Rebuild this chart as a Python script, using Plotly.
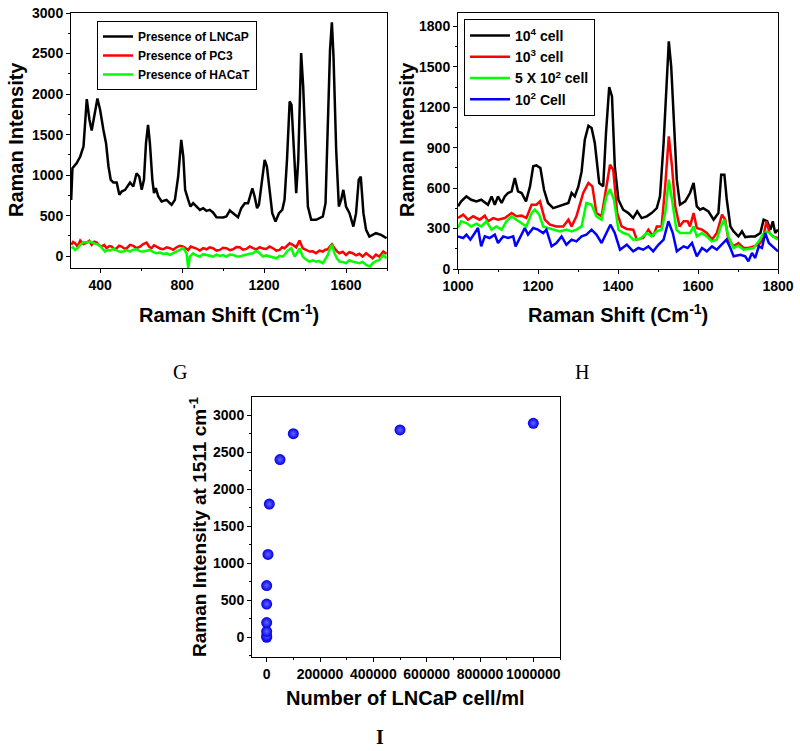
import plotly.graph_objects as go

FONT = "Liberation Sans, Arial, sans-serif"
SERIF = "Liberation Serif, Times New Roman, serif"

# ---------------- Panel G data ----------------
g_lncap_x = [259, 265, 286, 303, 319, 335, 348, 359, 387, 400, 416, 429, 441, 452, 465, 481, 494, 505, 522, 546,
             562, 578, 591, 603, 614, 624, 634, 643, 655, 663, 672, 684, 700, 724, 749, 765, 781, 796, 806, 815,
             830, 841, 854, 870, 887, 903, 919, 935, 951, 968, 984, 1000, 1016, 1033, 1049, 1073, 1089, 1106, 1122, 1130,
             1143, 1154, 1166, 1175, 1187, 1203, 1214, 1224, 1240, 1256, 1273, 1289, 1300, 1312, 1325, 1334, 1346, 1357, 1367, 1381,
             1391, 1402, 1414, 1430, 1454, 1471, 1487, 1500, 1511, 1522, 1531, 1539, 1552, 1565, 1576, 1587, 1600, 1617, 1636, 1649,
             1662, 1672, 1685, 1698, 1714, 1730, 1746, 1771, 1787, 1798]
g_lncap_y = [695, 1086, 1148, 1230, 1354, 1938, 1683, 1551, 1946, 1806, 1560, 1395, 1107, 942, 909, 909, 757, 798, 819, 909,
             860, 1024, 983, 819, 942, 1395, 1621, 1395, 942, 778, 839, 737, 675, 695, 634, 695, 983, 1436, 1230, 819,
             695, 613, 654, 613, 572, 593, 560, 572, 540, 481, 481, 478, 490, 564, 531, 481, 593, 654, 654, 737,
             839, 737, 593, 634, 860, 1189, 1107, 860, 531, 428, 531, 572, 695, 1189, 1909, 1868, 1230, 778, 1189, 2506,
             2095, 1395, 613, 449, 449, 469, 490, 654, 1518, 2547, 2885, 2465, 1313, 613, 695, 819, 613, 531, 366, 531,
             942, 983, 531, 325, 243, 263, 284, 263, 243, 222]

g_pc3_x = [259, 268, 278, 290, 303, 319, 335, 347, 359, 372, 384, 396, 408, 420, 432, 445, 457, 469, 481, 493,
           505, 518, 530, 546, 562, 578, 595, 611, 627, 640, 651, 663, 676, 692, 708, 725, 741, 757, 773, 790,
           806, 818, 830, 842, 854, 870, 887, 903, 919, 935, 951, 968, 984, 1000, 1016, 1033, 1049, 1065, 1081, 1097,
           1114, 1130, 1146, 1162, 1179, 1195, 1211, 1227, 1244, 1260, 1276, 1288, 1300, 1312, 1325, 1341, 1357, 1373, 1389, 1405,
           1422, 1438, 1454, 1470, 1487, 1499, 1511, 1521, 1531, 1544, 1556, 1568, 1584, 1600, 1616, 1633, 1649, 1665, 1681, 1698,
           1714, 1730, 1746, 1763, 1782, 1798]
g_pc3_y = [140, 175, 160, 120, 193, 150, 169, 190, 140, 180, 169, 135, 119, 140, 99, 125, 119, 85, 99, 130,
           119, 95, 99, 140, 128, 100, 119, 150, 169, 115, 99, 135, 119, 95, 86, 110, 99, 80, 111, 130,
           119, 100, 78, 120, 111, 95, 70, 100, 86, 110, 99, 70, 78, 105, 99, 75, 86, 115, 111, 80,
           90, 120, 99, 85, 111, 95, 90, 120, 99, 70, 78, 110, 99, 130, 160, 140, 110, 193, 99, 80,
           58, 60, 37, 70, 58, 80, 86, 120, 148, 99, 60, 37, 55, 16, 50, 37, 10, 30, -4, 37,
           10, -25, 20, -4, 58, 29]

g_hacat_x = [259, 268, 278, 290, 303, 319, 335, 352, 368, 384, 400, 412, 424, 437, 449, 465, 481, 497, 514, 530,
             546, 562, 578, 595, 611, 627, 643, 660, 676, 692, 708, 725, 741, 757, 773, 790, 806, 822, 830, 838,
             854, 870, 887, 903, 919, 935, 951, 968, 984, 1000, 1016, 1033, 1049, 1065, 1081, 1097, 1114, 1130, 1146, 1158,
             1170, 1183, 1195, 1211, 1227, 1244, 1260, 1276, 1292, 1304, 1316, 1333, 1349, 1361, 1373, 1389, 1405, 1422, 1438, 1454,
             1470, 1487, 1499, 1511, 1521, 1531, 1544, 1556, 1568, 1584, 1600, 1616, 1633, 1649, 1665, 1681, 1698, 1717, 1730, 1746,
             1763, 1782, 1798]
g_hacat_y = [99, 110, 78, 100, 140, 175, 169, 180, 160, 150, 128, 90, 58, 80, 70, 90, 70, 55, 58, 75,
             58, 80, 86, 60, 58, 70, 78, 50, 37, 45, 29, 35, 16, 40, 58, 80, 99, 37, -150, -4,
             37, 10, -4, 25, 16, 0, -4, 20, 4, 15, -4, 20, 16, 0, -4, 10, 16, 30, 37, 60,
             58, 20, -4, 10, -4, -20, -25, 5, -4, 30, 70, 99, -4, 40, 99, -4, -40, -66, -50, -66,
             -60, -86, -30, 16, 90, 140, 37, -30, -66, -70, -86, -50, -66, -80, -86, -70, -107, -128, -86, -60,
             -45, 16, -25]

# ---------------- Panel H data ----------------
h_1e4_x = [1000, 1008, 1021, 1033, 1046, 1058, 1075, 1084, 1092, 1100, 1109, 1117, 1125, 1134, 1142, 1150, 1159, 1170, 1180, 1188,
           1196, 1206, 1215, 1225, 1238, 1250, 1263, 1276, 1284, 1292, 1301, 1309, 1317, 1326, 1334, 1342, 1353, 1363, 1370, 1378,
           1385, 1392, 1401, 1413, 1426, 1438, 1448, 1459, 1472, 1484, 1497, 1505, 1514, 1522, 1527, 1533, 1539, 1547, 1555, 1568,
           1580, 1589, 1597, 1605, 1613, 1626, 1639, 1651, 1658, 1666, 1672, 1681, 1689, 1701, 1710, 1718, 1731, 1743, 1756, 1764,
           1773, 1781, 1787, 1793, 1800]
h_1e4_y = [465, 502, 539, 514, 502, 514, 477, 539, 477, 539, 490, 539, 564, 576, 675, 576, 564, 502, 613, 762,
           769, 749, 588, 490, 452, 465, 477, 490, 564, 539, 613, 724, 959, 1063, 1046, 935, 638, 613, 1009, 1350,
           1281, 762, 514, 440, 415, 378, 428, 378, 391, 415, 452, 539, 935, 1380, 1689, 1503, 1132, 663, 477, 502,
           564, 638, 465, 440, 452, 428, 366, 415, 700, 700, 514, 316, 279, 242, 279, 237, 242, 242, 267, 366,
           354, 292, 354, 267, 292]

h_1e3_x = [1000, 1013, 1025, 1038, 1054, 1067, 1075, 1088, 1100, 1117, 1134, 1146, 1159, 1171, 1184, 1196, 1205, 1217, 1230, 1246,
           1263, 1276, 1284, 1296, 1313, 1326, 1336, 1346, 1359, 1371, 1380, 1388, 1398, 1409, 1422, 1438, 1447, 1463, 1476, 1488,
           1497, 1509, 1518, 1527, 1535, 1543, 1554, 1564, 1574, 1580, 1589, 1597, 1610, 1622, 1635, 1647, 1660, 1668, 1676, 1689,
           1701, 1714, 1726, 1739, 1752, 1762, 1771, 1779, 1787, 1800]
h_1e3_y = [378, 403, 366, 391, 366, 396, 354, 378, 366, 378, 415, 391, 396, 378, 477, 477, 502, 366, 329, 316,
           316, 366, 316, 391, 564, 638, 613, 415, 391, 613, 774, 737, 415, 316, 297, 292, 218, 230, 292, 242,
           316, 316, 613, 984, 762, 465, 316, 354, 354, 316, 415, 304, 292, 267, 218, 267, 403, 366, 218, 168,
           193, 156, 156, 168, 180, 218, 354, 267, 242, 230]

h_5e2_x = [1000, 1008, 1021, 1033, 1046, 1058, 1071, 1084, 1096, 1109, 1121, 1134, 1146, 1159, 1171, 1184, 1192, 1203, 1213, 1225,
           1238, 1255, 1271, 1284, 1296, 1309, 1321, 1334, 1346, 1359, 1371, 1380, 1390, 1401, 1413, 1426, 1438, 1455, 1472, 1484,
           1497, 1509, 1518, 1527, 1535, 1546, 1555, 1568, 1580, 1589, 1597, 1610, 1622, 1635, 1647, 1657, 1666, 1676, 1689, 1701,
           1714, 1726, 1739, 1752, 1762, 1771, 1779, 1787, 1800]
h_5e2_y = [304, 354, 341, 316, 336, 316, 354, 292, 316, 292, 354, 391, 366, 341, 316, 415, 440, 403, 316, 304,
           292, 279, 292, 279, 292, 316, 490, 477, 391, 366, 539, 593, 514, 292, 267, 255, 218, 223, 267, 242,
           279, 292, 415, 663, 514, 292, 267, 267, 267, 316, 242, 267, 242, 205, 218, 316, 366, 242, 156, 173,
           143, 148, 156, 205, 255, 279, 267, 242, 218]

h_1e2_x = [1000, 1013, 1021, 1031, 1042, 1050, 1058, 1067, 1079, 1092, 1100, 1113, 1125, 1138, 1144, 1154, 1167, 1175, 1188, 1200,
           1213, 1221, 1234, 1246, 1259, 1271, 1284, 1296, 1309, 1321, 1334, 1346, 1359, 1371, 1381, 1392, 1405, 1422, 1438, 1451,
           1463, 1476, 1488, 1501, 1514, 1526, 1537, 1547, 1564, 1574, 1585, 1597, 1610, 1622, 1635, 1647, 1660, 1671, 1681, 1689,
           1706, 1718, 1726, 1735, 1743, 1752, 1760, 1768, 1777, 1787, 1800]
h_1e2_y = [242, 230, 255, 218, 267, 304, 168, 242, 230, 255, 193, 242, 230, 242, 168, 230, 304, 255, 304, 292,
           267, 292, 168, 193, 242, 180, 218, 205, 242, 255, 292, 255, 193, 267, 329, 267, 143, 180, 131, 156,
           143, 168, 131, 180, 218, 354, 267, 131, 168, 156, 193, 94, 156, 131, 168, 143, 180, 218, 156, 94,
           106, 94, 57, 119, 82, 168, 156, 267, 193, 168, 131]

# ---------------- Panel I data ----------------
i_cells = [0, 0, 0, 0, 0, 0, 5000, 10000, 50000, 100000, 500000, 1000000]
i_intensity = [0, 20, 80, 200, 450, 700, 1120, 1800, 2400, 2750, 2800, 2890]

g_names = ["Presence of LNCaP", "Presence of PC3", "Presence of HACaT"]
h_names = ["10<sup>4</sup> cell", "10<sup>3</sup> cell", "5 X 10<sup>2</sup> cell", "10<sup>2</sup> Cell"]

fig = go.Figure()
LW = 2.5
fig.add_trace(go.Scatter(x=g_lncap_x, y=g_lncap_y, mode="lines", name=g_names[0],
                         line=dict(color="#000000", width=LW), xaxis="x", yaxis="y", legend="legend"))
fig.add_trace(go.Scatter(x=g_pc3_x, y=g_pc3_y, mode="lines", name=g_names[1],
                         line=dict(color="#ff0000", width=LW), xaxis="x", yaxis="y", legend="legend"))
fig.add_trace(go.Scatter(x=g_hacat_x, y=g_hacat_y, mode="lines", name=g_names[2],
                         line=dict(color="#00ff00", width=LW), xaxis="x", yaxis="y", legend="legend"))

for xs, ys, nm, col in [(h_1e4_x, h_1e4_y, h_names[0], "#000000"),
                        (h_1e3_x, h_1e3_y, h_names[1], "#ff0000"),
                        (h_5e2_x, h_5e2_y, h_names[2], "#00ff00"),
                        (h_1e2_x, h_1e2_y, h_names[3], "#0000ff")]:
    fig.add_trace(go.Scatter(x=xs, y=ys, mode="lines", name=nm, line=dict(color=col, width=LW),
                             xaxis="x2", yaxis="y2", legend="legend2"))

fig.add_trace(go.Scatter(x=i_cells, y=i_intensity, mode="markers", showlegend=False,
                         marker=dict(size=11, color="#0000e6",
                                     gradient=dict(type="radial", color="#6464ff"),
                                     line=dict(width=0)),
                         xaxis="x3", yaxis="y3"))

W, H = 800, 751
def px(x):
    return x / W
def py(y):
    return 1 - y / H

tickfont = dict(family=FONT, size=14, color="black", weight="bold")
def ax(domain, rng, dtick, minor_dtick, anchor, tickformat=None):
    d = dict(domain=domain, range=rng, dtick=dtick, tick0=0, anchor=anchor, automargin=False,
             showline=True, linecolor="black", linewidth=1, mirror=True, tickangle=0,
             ticks="outside", ticklen=4, tickwidth=1, tickcolor="black",
             showgrid=False, zeroline=False, tickfont=tickfont,
             minor=dict(dtick=minor_dtick, tick0=0, ticks="outside", ticklen=2, tickcolor="black", showgrid=False))
    if tickformat:
        d["tickformat"] = tickformat
    return d

fig.update_layout(
    template="none",
    width=W, height=H, margin=dict(l=0, r=0, t=0, b=0, autoexpand=False),
    paper_bgcolor="white", plot_bgcolor="white",
    xaxis=ax([px(71), px(387)], [258, 1800], 400, 200, "y"),
    yaxis=ax([py(268), py(13)], [-145, 3000], 500, 250, "x"),
    xaxis2=ax([px(458), px(778)], [1000, 1800], 200, 100, "y2"),
    yaxis2=ax([py(269), py(13)], [0, 1900], 300, 150, "x2"),
    xaxis3=ax([px(252), px(560)], [-55000, 1100000], 200000, 100000, "y3", tickformat="d"),
    yaxis3=ax([py(657), py(397)], [-265, 3245], 500, 250, "x3"),
    legend=dict(x=px(97), y=py(21), xanchor="left", yanchor="top",
                bordercolor="black", borderwidth=1, bgcolor="white",
                font=dict(family=FONT, size=12, color="black", weight="bold"),
                tracegroupgap=0, itemwidth=30),
    legend2=dict(x=px(464), y=py(19), xanchor="left", yanchor="top",
                 bordercolor="black", borderwidth=1, bgcolor="white",
                 font=dict(family=FONT, size=14, color="black", weight="bold"),
                 tracegroupgap=0, itemwidth=40),
    showlegend=True,
)

title_font = dict(family=FONT, size=20, color="black", weight="bold")
annots = [
    dict(text="Raman Intensity", x=px(16), y=py(140), textangle=-90),
    dict(text="Raman Shift (Cm<sup>-1</sup>)", x=px(229), y=py(313)),
    dict(text="Raman Intensity", x=px(407), y=py(140), textangle=-90),
    dict(text="Raman Shift (Cm<sup>-1</sup>)", x=px(618), y=py(313)),
    dict(text="Raman Intensity at 1511 cm<sup>-1</sup>", x=px(198), y=py(527), textangle=-90,
         font=dict(family=FONT, size=19, color="black", weight="bold")),
    dict(text="Number of LNCaP cell/ml", x=px(406), y=py(698)),
    dict(text="G", x=px(180), y=py(372), font=dict(family=SERIF, size=20, color="black")),
    dict(text="H", x=px(582), y=py(372), font=dict(family=SERIF, size=20, color="black")),
    dict(text="I", x=px(380), y=py(737), font=dict(family=SERIF, size=20, color="black", weight="bold")),
]
for a in annots:
    a.setdefault("font", title_font)
    fig.add_annotation(xref="paper", yref="paper", showarrow=False, xanchor="center", yanchor="middle", **a)

fig.write_html("out.html", config={"displayModeBar": False},
               post_script="document.body.style.margin='0';document.body.style.overflow='hidden';")
